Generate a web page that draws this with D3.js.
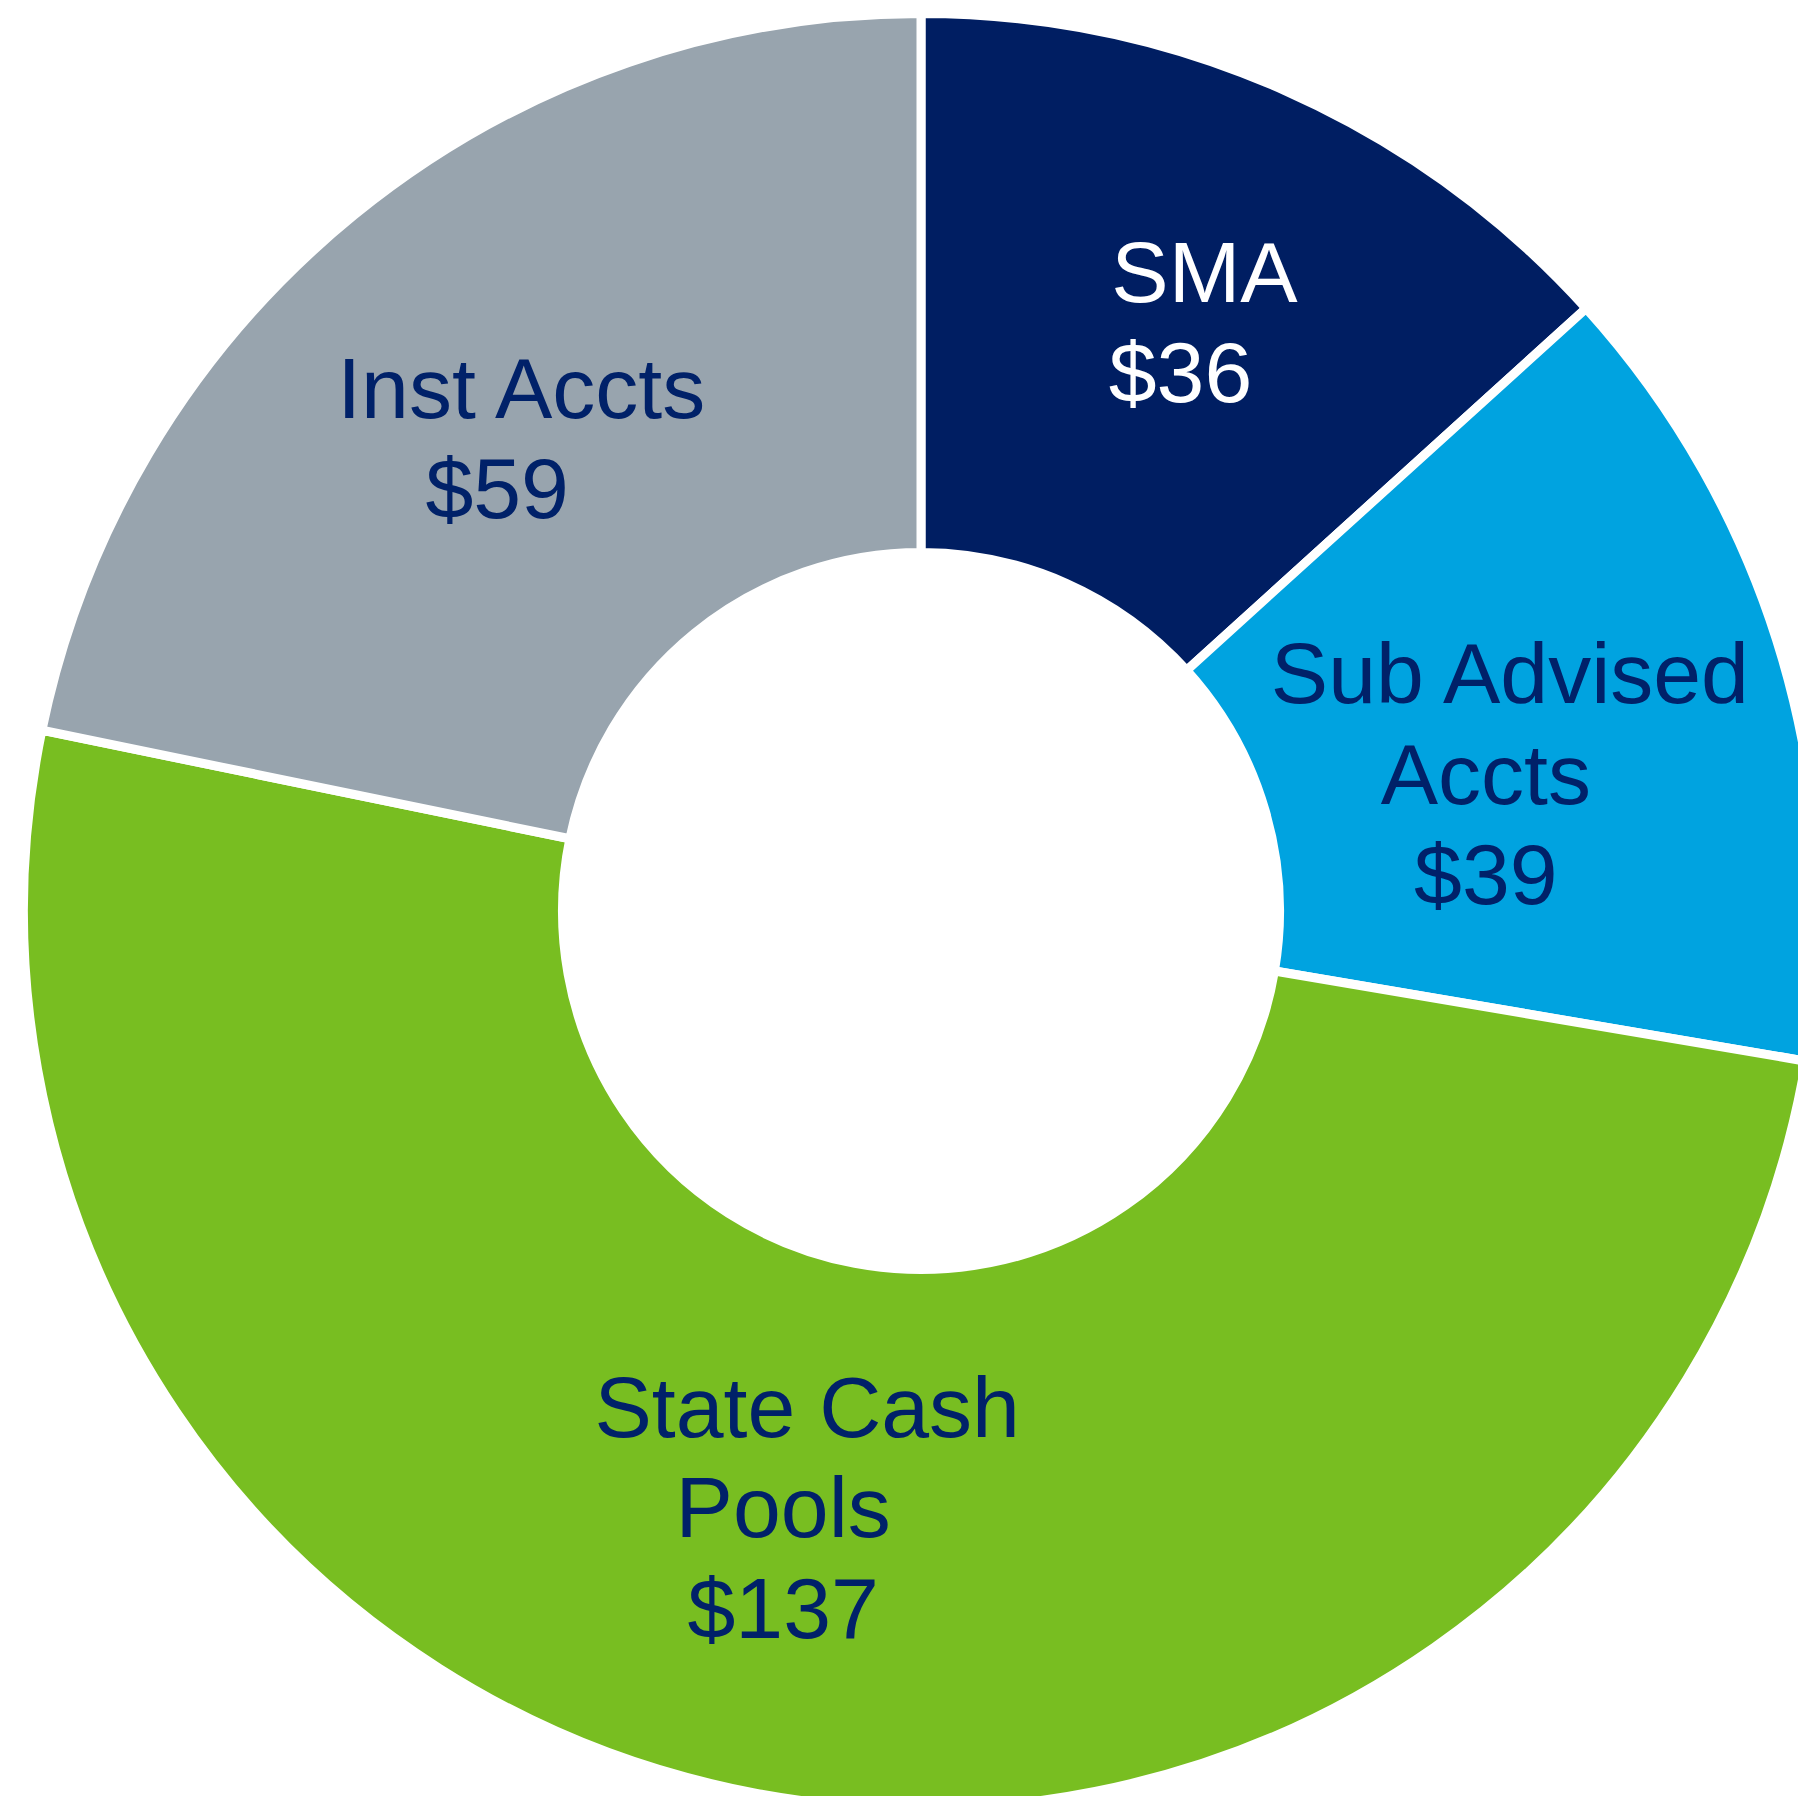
<!DOCTYPE html>
<html>
<head>
<meta charset="utf-8">
<script src="https://cdn.jsdelivr.net/npm/d3@7"></script>
<style>
  html, body { margin: 0; padding: 0; background: #fff; overflow: hidden; }
</style>
</head>
<body>
<div id="chart-area"></div>
<script>
// data
const categories = ["SMA", "Sub Advised Accts", "State Cash Pools", "Inst Accts"]
const values = [36, 39, 137, 59]
const labelLines = [["SMA", "$36"], ["Sub Advised", "Accts", "$39"], ["State Cash", "Pools", "$137"], ["Inst Accts", "$59"]]

const colors = ["#001E62", "#00A3E0", "#78BE21", "#98A4AE"]
const textColors = ["#ffffff", "#002169", "#002169", "#002169"]
// small manual nudges of the labels away from the arc centroid
const labelNudge = [[5, -16], [-38, 38], [-22, -22], [-27, 13]]

const WIDTH = 1798
const HEIGHT = 1796
const CX = 921
const CY = 911
const GAP = 9
const OUTER = 893 + GAP / 2
const INNER = 363 - GAP / 2
const FONT = 86
const LINE_H = 100.5

const svg = d3.select("#chart-area").append("svg")
  .attr("width", WIDTH)
  .attr("height", HEIGHT)

const g = svg.append("g")
  .attr("transform", `translate(${CX}, ${CY})`)

const data = categories.map((c, i) => ({ name: c, value: values[i], i: i }))

const pie = d3.pie()
  .sort(null)
  .value(d => d.value)

const arc = d3.arc()
  .innerRadius(INNER)
  .outerRadius(OUTER)

const labelArc = d3.arc()
  .innerRadius((INNER + OUTER) / 2)
  .outerRadius((INNER + OUTER) / 2)

const arcs = pie(data)

g.selectAll(".slice")
  .data(arcs)
  .enter().append("path")
    .attr("class", "slice")
    .attr("d", arc)
    .attr("fill", d => colors[d.data.i])
    .attr("stroke", "#fff")
    .attr("stroke-width", GAP)
    .attr("stroke-linejoin", "miter")

// labels
const labels = g.selectAll(".label")
  .data(arcs)
  .enter().append("text")
    .attr("class", "label")
    .attr("font-family", "'Liberation Sans', Arial, sans-serif")
    .attr("font-size", FONT + "px")
    .attr("fill", d => textColors[d.data.i])
    .attr("text-anchor", "middle")
    .attr("transform", d => {
      const c = labelArc.centroid(d)
      const n = labelNudge[d.data.i]
      return `translate(${c[0] + n[0]}, ${c[1] + n[1]})`
    })

labels.each(function(d) {
  const lines = labelLines[d.data.i]
  const t = d3.select(this)
  const first = -(lines.length - 1) / 2 * LINE_H + FONT * 0.36
  lines.forEach((line, k) => {
    t.append("tspan")
      .attr("x", k === 0 ? 24 : 0)
      .attr("y", first + k * LINE_H)
      .text(line)
  })
})
</script>
</body>
</html>
